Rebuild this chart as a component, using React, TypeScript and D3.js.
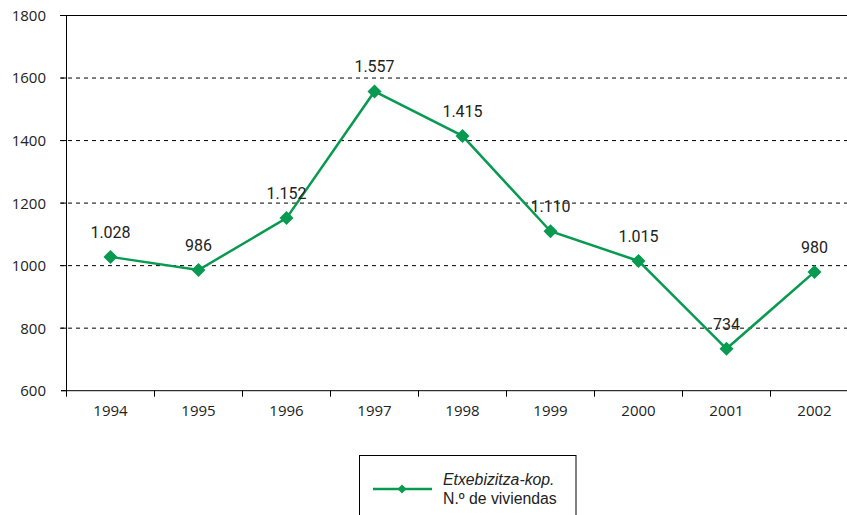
import React from "react";
import * as d3 from "d3";

const years = ["1994", "1995", "1996", "1997", "1998", "1999", "2000", "2001", "2002"];
const viviendas = [1028, 986, 1152, 1557, 1415, 1110, 1015, 734, 980];
const yTicks = [600, 800, 1000, 1200, 1400, 1600, 1800];
const legendLines = ["Etxebizitza-kop.", "N.º de viviendas"];

const W = 847, H = 515;
const GREEN = "#089a50";
const TICKFONT = "'Open Sans', 'DejaVu Sans', sans-serif";
const LABELFONT = "Roboto, 'Liberation Sans', sans-serif";
const LEGFONT = "'Liberation Sans', Arial, sans-serif";

export default function App() {
  const x = d3.scaleBand<string>().domain(years).range([66.5, 858.5]);
  const y = d3.scaleLinear().domain([600, 1800]).range([390.7, 15.5]);
  const line = d3
    .line<number>()
    .x((_, i) => (x(years[i]) as number) + x.bandwidth() / 2)
    .y((d) => y(d));
  const fmt = (v: number) => d3.format(",")(v).replace(/,/g, ".");
  const diamond = (cx: number, cy: number, r: number) =>
    `M${cx},${cy - r}L${cx + r},${cy}L${cx},${cy + r}L${cx - r},${cy}Z`;

  return (
    <svg width={W} height={H} style={{ position: "absolute", left: 0, top: 0, background: "#fff" }}>
      {/* gridlines */}
      {yTicks.map((t) =>
        t === 600 ? null : (
          <line
            key={t}
            x1={60}
            x2={W}
            y1={y(t)}
            y2={y(t)}
            stroke="#000"
            strokeWidth={1}
            strokeDasharray={t === 1800 ? undefined : "4,4"}
          />
        )
      )}
      {/* y axis */}
      <line x1={66.5} x2={66.5} y1={y(1800)} y2={y(600)} stroke="#000" strokeWidth={1} />
      {yTicks.map((t) => (
        <g key={"yt" + t}>
          <line x1={61} x2={66.5} y1={y(t)} y2={y(t)} stroke="#000" />
          <text x={46} y={y(t)} dy="0.36em" textAnchor="end" fontFamily={TICKFONT} fontSize={15} fill="#222">
            {t}
          </text>
        </g>
      ))}
      {/* x axis */}
      <line x1={61} x2={W} y1={y(600)} y2={y(600)} stroke="#000" strokeWidth={1} />
      {years.map((yr) => (
        <g key={yr}>
          <line x1={x(yr) as number} x2={x(yr) as number} y1={y(600)} y2={y(600) + 6} stroke="#000" />
          <text
            x={(x(yr) as number) + x.bandwidth() / 2}
            y={y(600) + 25}
            textAnchor="middle"
            fontFamily={TICKFONT}
            fontSize={15}
            fill="#222"
          >
            {yr}
          </text>
        </g>
      ))}
      {/* series */}
      <path d={line(viviendas) || ""} fill="none" stroke={GREEN} strokeWidth={2.5} />
      {viviendas.map((v, i) => {
        const cx = (x(years[i]) as number) + x.bandwidth() / 2;
        const cy = y(v);
        return (
          <g key={"p" + i}>
            <path d={diamond(cx, cy, 7)} fill={GREEN} />
            <text x={cx} y={cy - 19} textAnchor="middle" fontFamily={LABELFONT} fontSize={16} fill="#222">
              {fmt(v)}
            </text>
          </g>
        );
      })}
      {/* legend */}
      <rect x={359.5} y={455.5} width={216.5} height={80} fill="#fff" stroke="#000" strokeWidth={1} />
      <line x1={373} x2={432} y1={489} y2={489} stroke={GREEN} strokeWidth={2.5} />
      <path d={diamond(402, 489, 4.5)} fill={GREEN} />
      <text x={443} y={485} fontFamily={LEGFONT} fontSize={15.8} fontStyle="italic" fill="#222">
        {legendLines[0]}
      </text>
      <text x={443} y={504} fontFamily={LEGFONT} fontSize={15.8} fill="#222">
        {legendLines[1]}
      </text>
    </svg>
  );
}
